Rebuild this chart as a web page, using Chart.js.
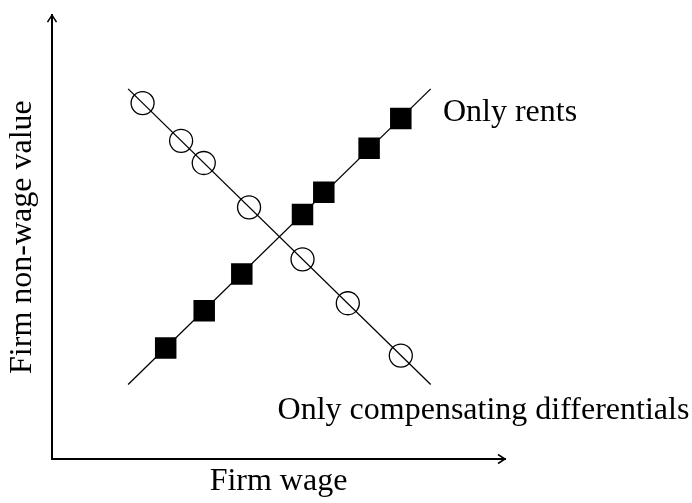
<!doctype html>
<html>
<head>
	<meta charset="utf-8">
	<title>Rents vs compensating differentials</title>
	<script src="https://cdn.jsdelivr.net/npm/chart.js@4.4.0/dist/chart.umd.min.js"></script>
	<style>
		body { margin: 0; background: #fff; }
		#wrap { width: 692px; height: 503px; }
	</style>
</head>
<body>
	<div id="wrap"><canvas id="fig" width="692" height="503"></canvas></div>
	<script>
		// markers (axis units 0..10)
		var circlesX = [2.00, 2.85, 3.35, 4.35, 5.53, 6.53, 7.70];
		var circlesY = [8.02, 7.17, 6.67, 5.67, 4.50, 3.51, 2.33];
		var squaresX = [2.51, 3.36, 4.19, 5.53, 6.00, 7.00, 7.70];
		var squaresY = [2.50, 3.34, 4.17, 5.51, 6.01, 7.00, 7.67];

		// the two straight lines, end points only
		var compLineX = [1.68, 8.36];
		var compLineY = [8.34, 1.68];
		var rentLineX = [1.68, 8.36];
		var rentLineY = [1.68, 8.34];

		var noteTexts = ["Only rents", "Only compensating differentials"];
		var noteX = [8.63, 4.98];
		var noteY = [7.62, 0.91];

		var xTitle = "Firm wage";
		var yTitle = "Firm non-wage value";

		var serif = '"Liberation Serif", "Times New Roman", serif';
		var fontSize = 32;

		function pts(xs, ys) {
			return xs.map(function (x, i) { return { x: x, y: ys[i] }; });
		}

		// arrow heads + text notes
		var extras = {
			id: 'extras',
			afterDraw: function (chart) {
				var ctx = chart.ctx;
				var a = chart.chartArea;
				var xs = chart.scales.x, ys = chart.scales.y;
				ctx.save();
				ctx.strokeStyle = '#000';
				ctx.lineWidth = 1.5;
				ctx.beginPath();
				ctx.moveTo(a.right - 7, a.bottom - 4.5);
				ctx.lineTo(a.right, a.bottom);
				ctx.lineTo(a.right - 7, a.bottom + 4.5);
				ctx.moveTo(a.left - 4.5, a.top + 7);
				ctx.lineTo(a.left, a.top);
				ctx.lineTo(a.left + 4.5, a.top + 7);
				ctx.stroke();

				ctx.fillStyle = '#000';
				ctx.font = fontSize + 'px ' + serif;
				ctx.textAlign = 'left';
				ctx.textBaseline = 'alphabetic';
				noteTexts.forEach(function (t, i) {
					ctx.fillText(t, xs.getPixelForValue(noteX[i]), ys.getPixelForValue(noteY[i]));
				});
				ctx.restore();
			}
		};

		var axisBase = {
			type: 'linear',
			min: 0,
			max: 10,
			grid: { display: false },
			ticks: { display: false },
			border: { display: true, color: '#000', width: 2 }
		};

		new Chart("fig", {
			type: "scatter",
			data: {
				datasets: [
					{
						data: pts(compLineX, compLineY),
						showLine: true,
						borderColor: '#000',
						borderWidth: 1.3,
						pointRadius: 0
					},
					{
						data: pts(rentLineX, rentLineY),
						showLine: true,
						borderColor: '#000',
						borderWidth: 1.3,
						pointRadius: 0
					},
					{
						data: pts(circlesX, circlesY),
						pointStyle: 'circle',
						pointRadius: 11.5,
						backgroundColor: 'rgba(0,0,0,0)',
						borderColor: '#000',
						borderWidth: 1.3
					},
					{
						data: pts(squaresX, squaresY),
						pointStyle: 'rect',
						pointRadius: 15.2,
						backgroundColor: '#000',
						borderColor: '#000',
						borderWidth: 0
					}
				]
			},
			options: {
				responsive: false,
				animation: false,
				devicePixelRatio: 1,
				layout: { padding: { top: 5, right: 187, bottom: 0, left: 0 } },
				plugins: {
					legend: { display: false },
					tooltip: { enabled: false }
				},
				scales: {
					x: Object.assign({}, axisBase, {
						title: {
							display: true, text: xTitle, color: '#000',
							font: { family: serif, size: fontSize },
							padding: { top: 0, bottom: 2 }
						},
						afterFit: function (s) { s.height = 44; }
					}),
					y: Object.assign({}, axisBase, {
						title: {
							display: true, text: yTitle, color: '#000',
							font: { family: serif, size: fontSize },
							padding: { top: 3, bottom: 0 }
						},
						afterFit: function (s) { s.width = 52; }
					})
				}
			},
			plugins: [extras]
		});
	</script>
</body>
</html>
